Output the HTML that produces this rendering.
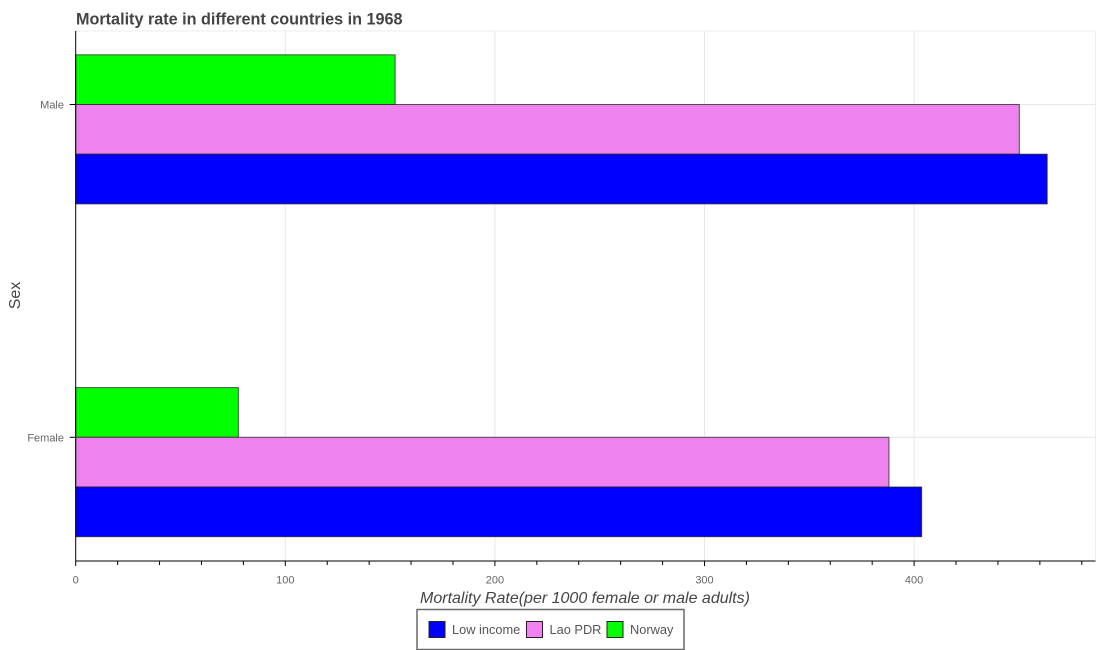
<!DOCTYPE html>
<html>
<head>
<meta charset="utf-8">
<style>
html,body{margin:0;padding:0;background:#fff;width:1100px;height:650px;overflow:hidden}
svg{display:block;font-family:"Liberation Sans",Arial,sans-serif}
</style>
</head>
<body>
<svg id="chart" width="1100" height="650" viewBox="0 0 1100 650">
  <text x="76" y="24.5" font-size="16.2" font-weight="bold" fill="#444">Mortality rate in different countries in 1968</text>
  <g id="grid"></g>
  <g id="bars"></g>
  <g id="axes"></g>
  <text x="585" y="603" font-size="16" font-style="italic" fill="#444" text-anchor="middle">Mortality Rate(per 1000 female or male adults)</text>
  <text transform="translate(20,295.5) rotate(-90)" font-size="16" fill="#444" text-anchor="middle">Sex</text>
  <g>
    <rect x="417" y="609.5" width="267" height="40" fill="#fff" stroke="#6a6a6a" stroke-width="1.5"/>
    <g>
      <rect x="429" y="621.5" width="16" height="16" fill="#0000ff" stroke="#222"/>
      <text x="452" y="634" font-size="12.8" fill="#555">Low income</text>
    </g>
    <g>
      <rect x="526.5" y="621.5" width="16" height="16" fill="#ee82ee" stroke="#222"/>
      <text x="549.5" y="634" font-size="12.8" fill="#555">Lao PDR</text>
    </g>
    <g>
      <rect x="607" y="621.5" width="16" height="16" fill="#00ff00" stroke="#222"/>
      <text x="630" y="634" font-size="12.8" fill="#555">Norway</text>
    </g>
  </g>
</svg>
<script>
const categories = ['Male', 'Female'];
const lowIncome = [463.5, 403.6];
const laoPdr = [450.2, 388];
const norway = [152.4, 77.6];
const xTickLabels = [0, 100, 200, 300, 400];
const xMinorTicks = [20, 40, 60, 80, 120, 140, 160, 180, 220, 240, 260, 280, 320, 340, 360, 380, 420, 440, 460, 480];

const NS = 'http://www.w3.org/2000/svg';
const plotLeft = 75.7, plotRight = 1095.5, plotTop = 31, plotBottom = 561;
const bandCenterMale = 104.5, bandSpacing = 332.8, barH = 49.7;
function xScale(v) { return plotLeft + v * 2.096; }
function yScale(i) { return bandCenterMale + i * bandSpacing; }
function make(parent, tag, attrs) {
  const el = document.createElementNS(NS, tag);
  for (const k in attrs) el.setAttribute(k, attrs[k]);
  document.getElementById(parent).appendChild(el);
  return el;
}

// gridlines
const gridColor = '#e6e6e6';
xTickLabels.forEach(function (t) {
  if (t === 0) return;
  const g = make('grid', 'line', { x1: xScale(t), x2: xScale(t), y1: plotTop, y2: plotBottom, stroke: gridColor, 'stroke-width': 1 });
  
  
});
categories.forEach(function (c, i) {
  const g = make('grid', 'line', { x1: plotLeft, x2: plotRight, y1: yScale(i), y2: yScale(i), stroke: gridColor, 'stroke-width': 1 });
  
  
});
const frameTop = make('grid', 'line', { x1: plotLeft, x2: plotRight, y1: plotTop, y2: plotTop, stroke: '#ececec', 'stroke-width': 1 });


const frameRight = make('grid', 'line', { x1: plotRight, x2: plotRight, y1: plotTop, y2: plotBottom, stroke: '#ececec', 'stroke-width': 1 });



// bars
function drawBar(value, catIndex, offset, fill, name) {
  const y = yScale(catIndex) + offset * barH;
  const r = make('bars', 'rect', { x: plotLeft, y: y, width: xScale(value) - plotLeft, height: barH, fill: fill, stroke: '#222', 'stroke-opacity': 0.75, 'stroke-width': 1 });
  
  
}
categories.forEach(function (c, i) {
  drawBar(norway[i], i, -1, '#00ff00', 'bar-norway-' + c.toLowerCase());
  drawBar(laoPdr[i], i, 0, '#ee82ee', 'bar-lao-pdr-' + c.toLowerCase());
  drawBar(lowIncome[i], i, 1, '#0000ff', 'bar-low-income-' + c.toLowerCase());
});

// axes
const axisX = make('axes', 'line', { x1: plotLeft, x2: plotRight, y1: plotBottom, y2: plotBottom, stroke: '#000', 'stroke-width': 1 });


const axisY = make('axes', 'line', { x1: plotLeft, x2: plotLeft, y1: plotTop, y2: plotBottom, stroke: '#000', 'stroke-width': 1 });



xTickLabels.forEach(function (t) {
  const m = make('axes', 'line', { x1: xScale(t), x2: xScale(t), y1: plotBottom, y2: plotBottom + 5, stroke: '#000', 'stroke-width': 1 });
  
  
  const l = make('axes', 'text', { x: xScale(t), y: 583.5, 'font-size': 11, fill: '#666', 'text-anchor': 'middle' });
  
  
  l.textContent = t;
});
xMinorTicks.forEach(function (t) {
  const m = make('axes', 'line', { x1: xScale(t), x2: xScale(t), y1: plotBottom, y2: plotBottom + 4, stroke: '#000', 'stroke-width': 1 });
  
  
});
categories.forEach(function (c, i) {
  const m = make('axes', 'line', { x1: plotLeft - 6, x2: plotLeft, y1: yScale(i), y2: yScale(i), stroke: '#000', 'stroke-width': 1 });
  
  
  const l = make('axes', 'text', { x: 64, y: yScale(i) + 4, 'font-size': 11, fill: '#666', 'text-anchor': 'end' });
  
  
  l.textContent = c;
});
</script>
</body>
</html>
